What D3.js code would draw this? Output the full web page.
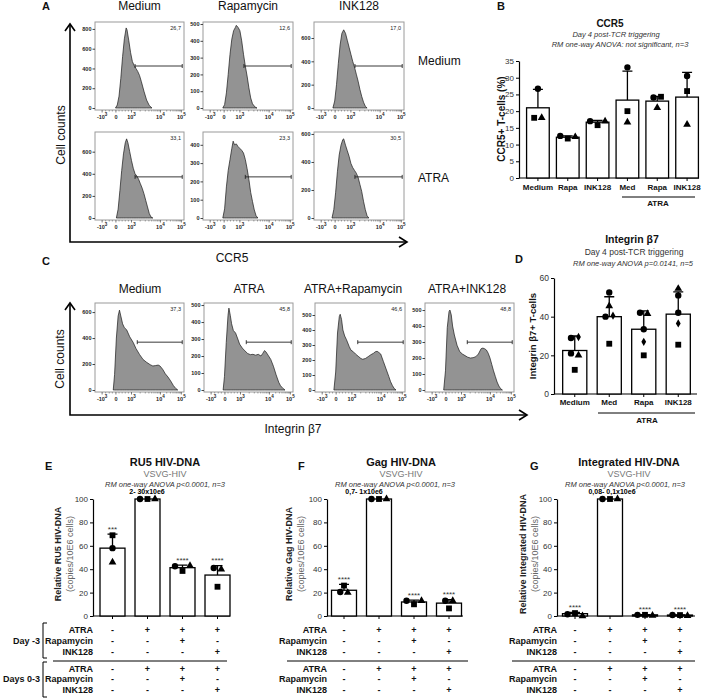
<!DOCTYPE html>
<html lang="en">
<head>
<meta charset="UTF-8">
<script src="https://cdn.jsdelivr.net/npm/d3@7"></script>
<title>ATRA / mTOR inhibitors - CCR5, Integrin b7, HIV-DNA</title>
<style>
  body { margin: 0; background: #fff; }
  svg { font-family: Arial, "Liberation Sans", sans-serif; }
</style>
</head>
<body>
<svg id="fig" width="702" height="700"></svg>
<script>
// ---------------- data ----------------
// flow histograms: x in display channels (0-100), y in cell counts
var histTickLabels = ["-10^3", "0", "10^3", "10^4", "10^5"];
var histTickChannels = [8, 23.5, 41, 73.5, 97];

var ccr5Cols = ["Medium", "Rapamycin", "INK128"];
var ccr5Rows = ["Medium", "ATRA"];
var ccr5GateValues = [["26,7", "12,6", "17,0"], ["33,1", "23,3", "30,5"]];
var ccr5GateStart = [[45, 45.5, 45.5], [45, 47, 45.5]];
var ccr5YMax = [[870, 512, 737], [778, 470, 614]];
var ccr5YTicks = [
  [[0, 200, 400, 600, 800], [0, 100, 200, 300, 400, 500], [0, 200, 400, 600]],
  [[0, 200, 400, 600], [0, 100, 200, 300, 400], [0, 200, 400, 600]]
];
var ccr5Medium_Medium = [[23,0],[25,30],[27,120],[29,300],[31,520],[33,700],[35,810],[36,790],[38,680],[40,560],[42,470],[44,430],[46,400],[48,370],[50,330],[52,270],[55,170],[58,80],[61,25],[64,0]];
var ccr5Medium_Rapa = [[22,0],[24,20],[26,90],[28,200],[30,320],[32,410],[34,460],[36,480],[37,492],[39,480],[41,460],[43,400],[45,320],[47,250],[49,190],[51,120],[53,60],[55,25],[58,5],[60,0]];
var ccr5Medium_INK = [[21,0],[23,60],[25,200],[27,380],[29,540],[31,640],[33,670],[35,640],[37,580],[39,520],[41,460],[43,400],[45,350],[47,290],[49,230],[51,160],[53,100],[55,50],[57,15],[59,0]];
var ccr5ATRA_Medium = [[24,0],[26,80],[28,250],[30,430],[32,580],[34,680],[35.5,716],[37,680],[39,600],[41,520],[43,450],[45,400],[47,380],[49,350],[51,310],[53,270],[55,220],[57,160],[59,100],[61,40],[63,8],[65,0]];
var ccr5ATRA_Rapa = [[22,0],[24,50],[26,170],[28,260],[30,320],[32,380],[33.5,420],[35,400],[37,405],[39,390],[41,380],[43,370],[45,355],[47,320],[49,270],[51,210],[53,140],[55,90],[57,44],[59,12],[61,0]];
var ccr5ATRA_INK = [[20,0],[22,60],[24,180],[26,330],[28,450],[30,520],[32,560],[33,565],[35,520],[37,480],[39,440],[41,390],[43,360],[45,340],[47,320],[49,290],[51,240],[53,190],[55,120],[57,60],[59,15],[61,0]];
var ccr5Curves = [[ccr5Medium_Medium, ccr5Medium_Rapa, ccr5Medium_INK], [ccr5ATRA_Medium, ccr5ATRA_Rapa, ccr5ATRA_INK]];

var b7Cols = ["Medium", "ATRA", "ATRA+Rapamycin", "ATRA+INK128"];
var b7GateValues = ["37,3", "45,8", "46,6", "48,8"];
var b7YMax = [670, 512, 580, 544];
var b7YTicks = [[0, 200, 400, 600], [0, 100, 200, 300, 400, 500], [0, 100, 200, 300, 400, 500], [0, 100, 200, 300, 400, 500]];
var b7Medium = [[20.5,0],[22,120],[24,400],[26,570],[27.5,615],[29,570],[31,510],[33,480],[35.5,464],[39,410],[43,365],[46,320],[50,274],[54,235],[58,213],[62,195],[65,185],[68,188],[71,192],[73,185],[76,160],[79,125],[82,100],[85,70],[88,35],[91,10],[93,0]];
var b7ATRA = [[21.5,0],[23,80],[25,280],[27,440],[28,482],[29.5,440],[31,390],[33,350],[35.5,335],[38,300],[40,270],[43,247],[46,230],[49,215],[52,208],[55,210],[58,205],[61,210],[64,200],[66,215],[68,232],[69.5,225],[72,205],[75,180],[78,140],[81,90],[84,45],[86,25],[89,8],[91,0]];
var b7ATRARapa = [[21,0],[23,120],[25,380],[27,490],[28,505],[29.5,470],[31,400],[33,360],[35,335],[38,290],[40,265],[42,258],[45,240],[48,225],[51,210],[53,205],[56,210],[59,222],[62,235],[65,245],[67,255],[69,258],[71,250],[73,240],[76,190],[79,140],[82,90],[84,55],[86,30],[88,10],[90,0]];
var b7ATRAINK = [[21,0],[23,120],[25,390],[27,490],[28,500],[29.5,470],[31,400],[33,344],[36,280],[39,240],[42,225],[45,215],[48,205],[51,200],[54,202],[57,208],[60,225],[63,258],[65,262],[67,258],[69,250],[71,230],[73,200],[75,160],[77,120],[79,85],[81,50],[83,25],[85,8],[87,0]];
var b7Curves = [b7Medium, b7ATRA, b7ATRARapa, b7ATRAINK];

// B: CCR5+ T-cells (%)
var ccr5BarLabels = ["Medium", "Rapa", "INK128", "Med", "Rapa", "INK128"];
var ccr5Mean = [21, 12.2, 16.7, 23.3, 23, 24.2];
var ccr5ErrTop = [26.5, 12.6, 17.2, 32, 24.4, 31.6];
var ccr5Circle = [26.7, 12.6, 17.0, 33.1, 24.1, 30.5];
var ccr5Square = [18, 11.8, 15.8, 20, 24.3, 26];
var ccr5Triangle = [18, 12.3, 17, 16.7, 21, 16];

// D: Integrin b7+ T-cells
var b7BarLabels = ["Medium", "Med", "Rapa", "INK128"];
var b7Mean = [22.5, 40, 33.5, 41.3];
var b7ErrTop = [30, 50.3, 43, 52.8];
var b7CircleA = [29, 52.5, 42, 51];
var b7CircleB = [21, 40, 33.5, 42];
var b7Square = [12.5, 26, 20, 25.5];
var b7Triangle = [20, 45.5, 41.5, 54.5];
var b7Diamond = [29.5, 40.5, 27, 36.5];

// E-G: relative HIV-DNA
var ru5Mean = [58, 100, 41.3, 35], ru5ErrTop = [70, 100, 43.5, 43];
var ru5Circle = [58, 100, 42.5, 41], ru5Square = [69, 100, 38.5, 25], ru5Triangle = [46, 100, 43, 40];
var ru5Sig = ["***", "", "****", "****"];
var gagMean = [22, 100, 12, 11], gagErrTop = [27, 100, 13.5, 14];
var gagCircle = [20.5, 100, 13, 13], gagSquare = [26, 100, 10, 6.5], gagTriangle = [20, 100, 13, 13];
var gagSig = ["****", "", "****", "****"];
var intMean = [2, 100, 1, 0.8], intErrTop = [3, 100, 1.2, 1];
var intCircle = [1.5, 100, 1, 0.8], intSquare = [2.5, 100, 1, 0.8], intTriangle = [0, 100, 0.5, 0.3];
var intSig = ["****", "", "****", "****"];
var hivYTicks = [0, 20, 40, 60, 80, 100];

var treatRows = ["ATRA", "Rapamycin", "INK128"];
var treatDayM3 = [["-", "+", "+", "+"], ["-", "-", "+", "-"], ["-", "-", "-", "+"]];
var treatDay03 = [["-", "+", "+", "+"], ["-", "-", "+", "-"], ["-", "-", "-", "+"]];

// ---------------- helpers ----------------
var svg = d3.select("#fig");

function label(g, x, y, s, size, opt) {
  opt = opt || {};
  return g.append("text")
    .attr("x", x).attr("y", y)
    .attr("text-anchor", opt.anchor || "middle")
    .style("font-size", size + "px")
    .style("font-weight", opt.weight || "normal")
    .style("font-style", opt.style || "normal")
    .attr("fill", opt.fill || "#111")
    .text(s);
}

function vlabel(g, x, y, s, size, opt) {
  return label(g, 0, 0, s, size, opt).attr("transform", "translate(" + x + "," + y + ") rotate(-90)");
}

function drawHist(g, x0, x1, y0, y1, ymax, yticks, curve, gateY, gateStart, gateText) {
  var xs = d3.scaleLinear().domain([0, 100]).range([x0, x1]);
  var ys = d3.scaleLinear().domain([0, ymax]).range([y1 - 2, y0]);

  g.append("path").datum(curve)
    .attr("d", d3.area().x(d => xs(d[0])).y0(ys(0)).y1(d => ys(d[1])))
    .attr("fill", "#939393").attr("stroke", "#1a1a1a").attr("stroke-width", 0.7);

  g.append("rect").attr("x", x0).attr("y", y0).attr("width", x1 - x0).attr("height", y1 - y0)
    .attr("fill", "none").attr("stroke", "#9a9a9a").attr("stroke-width", 1);

  var ya = g.append("g").attr("transform", "translate(" + x0 + ",0)")
    .call(d3.axisLeft(ys).tickValues(yticks).tickSize(2.5).tickPadding(1));
  ya.select(".domain").remove();
  ya.selectAll("text").style("font-size", "5.5px").style("font-weight", "bold").attr("fill", "#222");
  ya.selectAll("line").attr("stroke", "#444");

  // minor ticks along the x axis (linear around 0, log within decades)
  var minor = [12, 16, 19.5, 27, 30.5, 34, 37.5];
  [[41, 73.5], [73.5, 97]].forEach(function (p) {
    for (var k = 2; k < 10; k++) minor.push(p[0] + (p[1] - p[0]) * Math.log10(k));
  });
  g.selectAll(null).data(minor).enter().append("line")
    .attr("x1", d => xs(d)).attr("x2", d => xs(d)).attr("y1", y1).attr("y2", y1 + 1.5)
    .attr("stroke", "#555").attr("stroke-width", 0.5);

  histTickChannels.forEach(function (p, i) {
    g.append("line").attr("x1", xs(p)).attr("x2", xs(p)).attr("y1", y1).attr("y2", y1 + 2.5)
      .attr("stroke", "#444").attr("stroke-width", 0.7);
    var parts = histTickLabels[i].split("^");
    var t = g.append("text").attr("x", xs(p)).attr("y", y1 + 9).attr("text-anchor", "middle")
      .style("font-size", "5.5px").style("font-weight", "bold").attr("fill", "#222");
    t.append("tspan").text(parts[0]);
    if (parts[1]) t.append("tspan").attr("dy", -3).style("font-size", "4.5px").text(parts[1]);
  });

  // gate
  var gy = y0 + gateY * (y1 - y0);
  g.append("path")
    .attr("d", "M" + xs(gateStart) + "," + (gy - 2) + "V" + (gy + 2) + "M" + xs(gateStart) + "," + gy +
      "H" + xs(98) + "M" + xs(98) + "," + (gy - 2) + "V" + (gy + 2))
    .attr("stroke", "#222").attr("stroke-width", 0.9).attr("fill", "none");
  label(g, x1 - 3, y0 + 8, gateText, 5.5, { anchor: "end", fill: "#222" });
}

function arrowAxes(g, x, yTop, yBottom, xRight) {
  g.append("path").attr("d", "M" + x + "," + yTop + "V" + yBottom + "H" + xRight)
    .attr("fill", "none").attr("stroke", "#000").attr("stroke-width", 1.6);
  g.append("path").attr("d", "M" + (x - 5) + "," + (yTop + 7) + "L" + x + "," + yTop + "L" + (x + 5) + "," + (yTop + 7))
    .attr("fill", "none").attr("stroke", "#000").attr("stroke-width", 1.6);
  g.append("path").attr("d", "M" + (xRight - 8) + "," + (yBottom - 5) + "L" + xRight + "," + yBottom + "L" + (xRight - 8) + "," + (yBottom + 5))
    .attr("fill", "none").attr("stroke", "#000").attr("stroke-width", 1.6);
}

var SYM = {
  circle: { type: d3.symbolCircle, size: 32 },
  square: { type: d3.symbolSquare, size: 34 },
  triangle: { type: d3.symbolTriangle, size: 26 },
  diamond: { type: d3.symbolDiamond, size: 20 }
};

function barPanel(c) {
  var g = svg.append("g");
  var y = d3.scaleLinear().domain([0, c.ymax]).range([c.yBottom, c.yTop]);
  var x = d3.scaleBand().domain(d3.range(c.means.length)).range(c.range)
    .paddingInner(c.pad).paddingOuter(c.pad / 2);
  var cx = i => x(i) + x.bandwidth() / 2;

  var ya = g.append("g").attr("transform", "translate(" + c.axisX + ",0)")
    .call(d3.axisLeft(y).tickValues(c.yTicks).tickSize(3).tickSizeOuter(0).tickPadding(2));
  ya.select(".domain").attr("stroke-width", 1.2);
  ya.selectAll("line").attr("stroke-width", 1);
  ya.selectAll("text").style("font-size", c.tickFont + "px").attr("fill", "#333");

  g.append("line").attr("x1", c.axisX).attr("x2", c.axisEnd).attr("y1", c.yBottom).attr("y2", c.yBottom)
    .attr("stroke", "#000").attr("stroke-width", 1.2);
  g.selectAll(null).data(c.means).enter().append("line")
    .attr("x1", (d, i) => cx(i)).attr("x2", (d, i) => cx(i))
    .attr("y1", c.yBottom).attr("y2", c.yBottom + 3).attr("stroke", "#000");

  g.selectAll(null).data(c.means).enter().append("rect")
    .attr("x", (d, i) => x(i)).attr("width", x.bandwidth())
    .attr("y", d => y(d)).attr("height", d => c.yBottom - y(d))
    .attr("fill", "#fff").attr("stroke", "#000").attr("stroke-width", 1.3);

  c.errTop.forEach(function (e, i) {
    if (e <= c.means[i]) return;
    g.append("path")
      .attr("d", "M" + cx(i) + "," + y(c.means[i]) + "V" + y(e) + "M" + (cx(i) - 5) + "," + y(e) + "H" + (cx(i) + 5))
      .attr("stroke", "#000").attr("stroke-width", 1.3).attr("fill", "none");
  });

  // scatter points, spread sideways where they overlap
  c.means.forEach(function (m, i) {
    var pts = c.donors.map(d => ({ sym: d.sym, py: y(d.vals[i]) }));
    var groups = [];
    pts.forEach(function (p) {
      var grp = groups.find(gr => gr.some(q => Math.abs(q.py - p.py) < 6));
      if (grp) grp.push(p); else groups.push([p]);
    });
    groups.forEach(function (gr) {
      gr.forEach(function (p, k) {
        var dx = (k - (gr.length - 1) / 2) * 7.5;
        g.append("path").attr("d", d3.symbol().type(SYM[p.sym].type).size(SYM[p.sym].size)())
          .attr("transform", "translate(" + (cx(i) + dx) + "," + p.py + ")").attr("fill", "#000");
      });
    });
  });

  if (c.sig) c.sig.forEach(function (s, i) {
    if (s) label(g, cx(i), y(c.errTop[i]) - 2.5, s, 8, { fill: "#333" });
  });
  return { g: g, cx: cx };
}

// ---------------- panel A ----------------
var gA = svg.append("g");
label(gA, 42, 10, "A", 11, { anchor: "start", weight: "bold" });
var aBoxX = [[95, 184], [203, 293], [314, 404]];
var aBoxY = [[22, 110], [132, 220]];
ccr5Cols.forEach((t, j) => label(gA, (aBoxX[j][0] + aBoxX[j][1]) / 2, 10, t, 12));
for (var r = 0; r < 2; r++) {
  for (var j = 0; j < 3; j++) {
    drawHist(gA, aBoxX[j][0], aBoxX[j][1], aBoxY[r][0], aBoxY[r][1], ccr5YMax[r][j], ccr5YTicks[r][j],
      ccr5Curves[r][j], r === 0 ? 0.5 : 0.51, ccr5GateStart[r][j], ccr5GateValues[r][j]);
  }
}
label(gA, 418, 65, ccr5Rows[0], 12, { anchor: "start" });
label(gA, 418, 182, ccr5Rows[1], 12, { anchor: "start" });
arrowAxes(gA, 70, 24, 242, 407);
vlabel(gA, 65, 135, "Cell counts", 12);
label(gA, 232, 262, "CCR5", 12);

// ---------------- panel C ----------------
var gC = svg.append("g");
label(gC, 42, 265, "C", 11, { anchor: "start", weight: "bold" });
var cBoxX = [[95, 184], [204, 293], [315, 405], [425, 514]];
var cTitleX = [140, 249, 353, 467];
b7Cols.forEach((t, j) => label(gC, cTitleX[j], 293, t, 12));
b7Cols.forEach(function (t, j) {
  drawHist(gC, cBoxX[j][0], cBoxX[j][1], 303, 392, b7YMax[j], b7YTicks[j], b7Curves[j], 0.44, 47.5, b7GateValues[j]);
});
arrowAxes(gC, 70, 303, 415, 527);
vlabel(gC, 64, 359, "Cell counts", 12);
label(gC, 293, 433, "Integrin \u03b27", 12);

// ---------------- panel B ----------------
label(svg, 497, 10, "B", 11, { anchor: "start", weight: "bold" });
label(svg, 610, 27, "CCR5", 10, { weight: "bold" });
label(svg, 616, 37, "Day 4 post-TCR triggering", 7.5, { style: "italic", fill: "#333" });
label(svg, 620, 47, "RM one-way ANOVA: not significant, n=3", 7.5, { style: "italic", fill: "#333" });
var pB = barPanel({
  axisX: 519, axisEnd: 699, yTop: 61, yBottom: 178, ymax: 35, yTicks: d3.range(0, 36, 5), tickFont: 8,
  range: [523, 702], pad: 0.24, means: ccr5Mean, errTop: ccr5ErrTop,
  donors: [{ sym: "circle", vals: ccr5Circle }, { sym: "square", vals: ccr5Square }, { sym: "triangle", vals: ccr5Triangle }]
});
ccr5BarLabels.forEach((t, i) => label(pB.g, pB.cx(i), 190, t, 8, { weight: "bold" }));
pB.g.append("line").attr("x1", 622).attr("x2", 695).attr("y1", 197).attr("y2", 197).attr("stroke", "#000");
label(pB.g, 658, 206, "ATRA", 8, { weight: "bold" });
vlabel(svg, 505, 119, "CCR5+ T-cells (%)", 10, { weight: "bold" });

// ---------------- panel D ----------------
label(svg, 515, 263, "D", 11, { anchor: "start", weight: "bold" });
label(svg, 632, 243, "Integrin \u03b27", 10.5, { weight: "bold" });
label(svg, 634, 255, "Day 4 post-TCR triggering", 8.5, { fill: "#333" });
label(svg, 633, 266, "RM one-way ANOVA p=0.0141, n=5", 7.5, { style: "italic", fill: "#333" });
var pD = barPanel({
  axisX: 554, axisEnd: 697, yTop: 278, yBottom: 394, ymax: 60, yTicks: [0, 20, 40, 60], tickFont: 8.5,
  range: [557.5, 695.5], pad: 0.3, means: b7Mean, errTop: b7ErrTop,
  donors: [{ sym: "circle", vals: b7CircleA }, { sym: "circle", vals: b7CircleB }, { sym: "square", vals: b7Square },
    { sym: "triangle", vals: b7Triangle }, { sym: "diamond", vals: b7Diamond }]
});
b7BarLabels.forEach((t, i) => label(pD.g, pD.cx(i), 405, t, 8, { weight: "bold" }));
pD.g.append("line").attr("x1", 598).attr("x2", 695).attr("y1", 413).attr("y2", 413).attr("stroke", "#000");
label(pD.g, 647, 423, "ATRA", 8, { weight: "bold" });
vlabel(svg, 536, 336, "Integrin \u03b27+ T-cells", 9.5, { weight: "bold" });

// ---------------- panels E, F, G ----------------
var hivPanels = [
  { letter: "E", lx: 45, title: "RU5 HIV-DNA", tx: 165, rmx: 165, rangeLab: "2- 30x10e6", rlx: 147,
    axisX: 93, axisEnd: 230, range: [95, 235], yl1: "Relative RU5 HIV-DNA", ylx: 61,
    means: ru5Mean, errTop: ru5ErrTop, c: ru5Circle, s: ru5Square, t: ru5Triangle, sig: ru5Sig, sepX: [53, 227] },
  { letter: "F", lx: 298, title: "Gag HIV-DNA", tx: 401, rmx: 395, rangeLab: "0,7- 1x10e6", rlx: 364,
    axisX: 327, axisEnd: 463, range: [326.5, 466.5], yl1: "Relative Gag HIV-DNA", ylx: 292,
    means: gagMean, errTop: gagErrTop, c: gagCircle, s: gagSquare, t: gagTriangle, sig: gagSig, sepX: [287, 468] },
  { letter: "G", lx: 530, title: "Integrated HIV-DNA", tx: 629, rmx: 625, rangeLab: "0,08- 0,1x10e6", rlx: 612,
    axisX: 557, axisEnd: 695, range: [557.5, 697.5], yl1: "Relative Integrated HIV-DNA", ylx: 526,
    means: intMean, errTop: intErrTop, c: intCircle, s: intSquare, t: intTriangle, sig: intSig, sepX: [512, 695] }
];
var rowY1 = [633, 644, 655], rowY2 = [672, 682, 693];

hivPanels.forEach(function (h) {
  label(svg, h.lx, 470, h.letter, 11, { anchor: "start", weight: "bold" });
  label(svg, h.tx, 466, h.title, 11, { weight: "bold" });
  label(svg, h.tx, 477, "VSVG-HIV", 9, { fill: "#777" });
  label(svg, h.rmx, 487, "RM one-way ANOVA p<0.0001, n=3", 7.5, { style: "italic", fill: "#333" });
  label(svg, h.rlx, 494, h.rangeLab, 7, { weight: "bold", fill: "#000" });
  var p = barPanel({
    axisX: h.axisX, axisEnd: h.axisEnd, yTop: 499, yBottom: 616, ymax: 100, yTicks: hivYTicks, tickFont: 8,
    range: h.range, pad: 0.286, means: h.means, errTop: h.errTop, sig: h.sig,
    donors: [{ sym: "circle", vals: h.c }, { sym: "square", vals: h.s }, { sym: "triangle", vals: h.t }]
  });
  vlabel(svg, h.ylx, 554, h.yl1, 9, { weight: "bold", fill: "#222" });
  vlabel(svg, h.ylx + 12, 554, "(copies/10E6 cells)", 9, { fill: "#666" });

  treatRows.forEach(function (r, k) {
    label(svg, h.axisX, rowY1[k], r, 9, { anchor: "end", weight: "bold" });
    label(svg, h.axisX, rowY2[k], r, 9, { anchor: "end", weight: "bold" });
    treatDayM3[k].forEach((v, i) => label(svg, p.cx(i), rowY1[k], v, 9, { weight: "bold" }));
    treatDay03[k].forEach((v, i) => label(svg, p.cx(i), rowY2[k], v, 9, { weight: "bold" }));
  });
  svg.append("line").attr("x1", h.sepX[0]).attr("x2", h.sepX[1]).attr("y1", 661).attr("y2", 661)
    .attr("stroke", "#000").attr("stroke-width", 1);
});

// day brackets (panel E only)
svg.append("path").attr("d", "M47,623H43V658H47M47,662H43V697H47")
  .attr("fill", "none").attr("stroke", "#000").attr("stroke-width", 1);
label(svg, 40, 644, "Day -3", 9, { anchor: "end", weight: "bold" });
label(svg, 40, 682, "Days 0-3", 9, { anchor: "end", weight: "bold" });
</script>
</body>
</html>
